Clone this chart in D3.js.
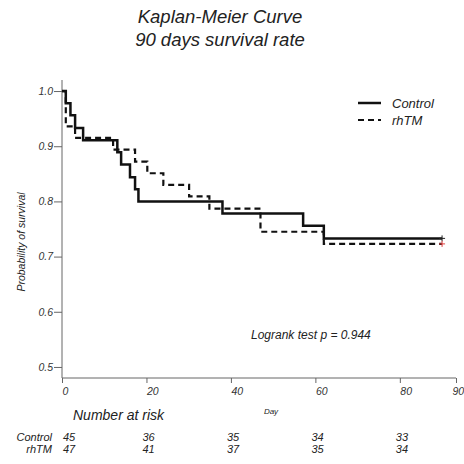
<!DOCTYPE html>
<html>
<head>
<meta charset="utf-8">
<script src="https://cdn.jsdelivr.net/npm/d3@7"></script>
<style>
  body { margin: 0; background: #fff; }
  svg text { font-family: "Liberation Sans", Arial, sans-serif; font-style: italic; }
</style>
</head>
<body>
<div id="chart"></div>
<script>
// step points: day of each drop and survival after it
var control_days = [0, 0.9, 2, 3.1, 5, 13.1, 14, 16.1, 17.3, 18.1, 38, 57.1, 62, 90];
var control_surv = [1, 0.978, 0.956, 0.933, 0.911, 0.889, 0.867, 0.844, 0.822, 0.800, 0.778, 0.756, 0.733, 0.733];
var rhtm_days = [0, 0.9, 3.1, 12.1, 17.3, 20.2, 24, 30.1, 34.9, 47, 62, 90];
var rhtm_surv = [1, 0.936, 0.915, 0.894, 0.872, 0.851, 0.830, 0.809, 0.787, 0.745, 0.723, 0.723];

var risk_days = [0, 20, 40, 60, 80];
var control_risk = [45, 36, 35, 34, 33];
var rhtm_risk = [47, 41, 37, 35, 34];

var x_ticks = [0, 20, 40, 60, 80];
var y_ticks = [0.5, 0.6, 0.7, 0.8, 0.9, 1.0];

var W = 464, H = 464;
var margin = {left: 62, right: 456, top: 80, bottom: 378};

var svg = d3.select('#chart').append('svg')
    .attr('width', W)
    .attr('height', H);

var sx = d3.scaleLinear()
    .domain([0, 93.3])
    .range([margin.left, margin.right]);
var sy = d3.scaleLinear()
    .domain([0.48, 1.02])
    .range([margin.bottom, margin.top]);

// title
svg.append('text')
    .attr('x', 220).attr('y', 23)
    .attr('text-anchor', 'middle')
    .attr('font-size', 18.5)
    .attr('fill', '#222')
    .text('Kaplan-Meier Curve');
svg.append('text')
    .attr('x', 220).attr('y', 46)
    .attr('text-anchor', 'middle')
    .attr('font-size', 18.5)
    .attr('fill', '#222')
    .text('90 days survival rate');

// axes
var ax = d3.axisBottom(sx)
    .tickValues(x_ticks.concat([93.3]))
    .tickSize(5)
    .tickFormat(function(d) { return d > 90 ? '90' : d; });
var ay = d3.axisLeft(sy)
    .tickValues(y_ticks)
    .tickSize(8)
    .tickFormat(d3.format('.1f'));

var gx = svg.append('g')
    .attr('transform', 'translate(0,' + margin.bottom + ')')
    .call(ax);
var gy = svg.append('g')
    .attr('transform', 'translate(' + margin.left + ',0)')
    .call(ay);

[gx, gy].forEach(function(g) {
    g.select('.domain').attr('stroke', '#666').attr('stroke-width', 1);
    g.selectAll('.tick line').attr('stroke', '#666');
    g.selectAll('.tick text')
        .attr('font-family', '"Liberation Sans", Arial, sans-serif')
        .attr('font-style', 'italic')
        .attr('font-size', 10.5)
        .attr('fill', '#333');
});
gx.select('.domain').attr('d', 'M' + margin.left + ',0H' + margin.right);
gx.selectAll('.tick text')
    .attr('text-anchor', 'start')
    .attr('dy', 0)
    .attr('y', 17);
gx.selectAll('.tick text').filter(function(d) { return d > 90; })
    .attr('x', -4);
gy.select('.domain').attr('d', 'M0,' + margin.top + 'V' + margin.bottom);
gy.selectAll('.tick text').attr('x', -9);

// axis titles
svg.append('text')
    .attr('transform', 'translate(25,242) rotate(-90)')
    .attr('text-anchor', 'middle')
    .attr('font-size', 10.5)
    .attr('fill', '#222')
    .text('Probability of survival');
svg.append('text')
    .attr('x', 271).attr('y', 414)
    .attr('text-anchor', 'middle')
    .attr('font-size', 8)
    .attr('fill', '#222')
    .text('Day');

// curves
var line = d3.line()
    .x(function(d) { return sx(d[0]); })
    .y(function(d) { return sy(d[1]); })
    .curve(d3.curveStepAfter);

var control_pts = d3.zip(control_days, control_surv);
var rhtm_pts = d3.zip(rhtm_days, rhtm_surv);

svg.append('path')
    .attr('d', line(rhtm_pts))
    .attr('fill', 'none')
    .attr('stroke', '#111')
    .attr('stroke-width', 2.2)
    .attr('stroke-dasharray', '6,4');
svg.append('path')
    .attr('d', line(control_pts))
    .attr('fill', 'none')
    .attr('stroke', '#111')
    .attr('stroke-width', 2.5);

// censor marks at the end
function cross(p, color) {
    var cx = sx(p[0]), cy = sy(p[1]);
    svg.append('path')
        .attr('d', 'M' + (cx - 3) + ',' + cy + 'H' + (cx + 3) + 'M' + cx + ',' + (cy - 3) + 'V' + (cy + 3))
        .attr('stroke', color)
        .attr('stroke-width', 1);
}
cross(control_pts[control_pts.length - 1], '#222');
cross(rhtm_pts[rhtm_pts.length - 1], '#e04040');

// legend
var legend = [
    {name: 'Control', dash: null, w: 2.5},
    {name: 'rhTM', dash: '6,4', w: 2.2}
];
legend.forEach(function(k, i) {
    var y = 103 + 17 * i;
    svg.append('line')
        .attr('x1', 358).attr('x2', 381)
        .attr('y1', y).attr('y2', y)
        .attr('stroke', '#111')
        .attr('stroke-width', k.w)
        .attr('stroke-dasharray', k.dash);
    svg.append('text')
        .attr('x', 392).attr('y', y + 5)
        .attr('font-size', 13)
        .attr('fill', '#222')
        .text(k.name);
});

svg.append('text')
    .attr('x', 251).attr('y', 339)
    .attr('font-size', 12)
    .attr('fill', '#222')
    .text('Logrank test p = 0.944');

// number at risk table
svg.append('text')
    .attr('x', 73).attr('y', 420)
    .attr('font-size', 14)
    .attr('fill', '#222')
    .text('Number at risk');

var rows = [
    {name: 'Control', vals: control_risk, y: 441},
    {name: 'rhTM', vals: rhtm_risk, y: 453}
];
rows.forEach(function(r) {
    svg.append('text')
        .attr('x', 52).attr('y', r.y)
        .attr('text-anchor', 'end')
        .attr('font-size', 11)
        .attr('fill', '#222')
        .text(r.name);
    r.vals.forEach(function(v, i) {
        svg.append('text')
            .attr('x', sx(risk_days[i]) + (i == 0 ? 1 : -4))
            .attr('y', r.y)
            .attr('font-size', 11)
            .attr('fill', '#222')
            .text(v);
    });
});
</script>
</body>
</html>
